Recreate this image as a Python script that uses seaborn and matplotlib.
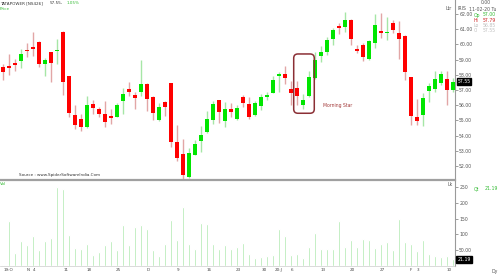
import numpy as np
import pandas as pd
import matplotlib
matplotlib.use("Agg")
import matplotlib.pyplot as plt
from matplotlib.patches import FancyBboxPatch
import seaborn as sns

# ---------------- data ----------------
opens = [58.49, 58.56, 58.78, 58.93, 59.65, 59.83, 60.18, 58.73, 59.48, 59.58,
         60.84, 57.92, 55.38, 55.07, 54.55, 56.06, 55.73, 55.42, 55.29, 55.22,
         56.28, 57.05, 56.65, 56.85, 57.41, 56.56, 55.03, 56.23, 57.44, 53.58,
         52.77, 51.26, 52.74, 53.64, 54.22, 55.03, 56.32, 54.98, 55.73, 55.07,
         56.54, 56.06, 55.38, 55.95, 56.57, 56.82, 57.94, 58.05, 57.09, 57.15,
         56.01, 56.61, 57.81, 59.24, 59.52, 60.36, 61.19, 61.17, 61.61, 59.68,
         59.96, 59.04, 60.07, 60.86, 60.75, 61.41, 60.73, 60.57, 57.86, 55.20,
         55.38, 56.93, 57.07, 57.44, 57.74, 57.00]
highs = [58.69, 59.35, 59.02, 59.72, 60.07, 60.82, 60.25, 59.09, 59.50, 60.38,
         60.88, 57.95, 56.01, 55.44, 56.61, 56.34, 55.88, 56.26, 55.77, 56.12,
         57.11, 57.53, 56.85, 58.97, 57.43, 56.58, 56.17, 56.25, 57.46, 54.68,
         53.80, 53.16, 53.69, 54.63, 55.60, 56.28, 56.34, 56.23, 56.12, 55.99,
         56.65, 56.56, 56.30, 56.74, 56.87, 57.94, 58.18, 58.58, 57.57, 57.59,
         56.74, 58.27, 59.52, 59.89, 60.47, 61.10, 61.39, 62.11, 61.67, 59.96,
         60.07, 60.28, 61.98, 62.05, 61.82, 61.61, 61.56, 60.60, 57.88, 56.43,
         56.82, 57.44, 58.25, 58.25, 58.25, 57.79]
lows = [57.66, 57.97, 58.27, 58.47, 59.19, 59.26, 58.49, 57.94, 57.55, 58.73,
        56.65, 55.24, 54.43, 54.28, 54.52, 55.40, 55.20, 54.59, 54.76, 55.20,
        55.44, 56.59, 55.73, 56.62, 55.64, 55.03, 54.98, 55.31, 53.25, 52.31,
        51.05, 51.19, 52.70, 52.94, 54.15, 54.74, 54.85, 54.59, 55.20, 55.03,
        55.86, 55.07, 55.30, 55.68, 56.34, 56.78, 56.89, 57.39, 55.99, 55.99,
        55.77, 56.56, 57.74, 58.84, 59.30, 59.96, 60.70, 60.84, 59.94, 59.41,
        58.91, 59.00, 59.74, 60.40, 60.31, 60.73, 59.04, 57.66, 54.70, 54.68,
        54.63, 56.23, 56.89, 57.30, 55.99, 56.85]
closes = [58.18, 58.47, 58.67, 59.39, 59.55, 59.72, 58.73, 58.95, 58.80, 59.63,
          57.55, 55.47, 54.72, 54.55, 55.99, 55.80, 55.44, 54.89, 55.18, 55.99,
          56.72, 56.85, 56.49, 57.41, 56.39, 55.51, 55.90, 55.86, 53.56, 52.55,
          51.41, 52.86, 53.43, 54.04, 55.07, 56.08, 55.57, 55.75, 55.53, 55.84,
          56.17, 55.20, 56.17, 56.52, 56.61, 57.66, 58.05, 57.79, 56.78, 56.62,
          56.34, 57.84, 58.99, 59.48, 60.29, 60.95, 61.06, 61.61, 60.33, 59.59,
          59.19, 60.25, 61.28, 60.75, 60.84, 60.95, 60.36, 58.16, 55.31, 54.96,
          56.49, 57.26, 57.74, 58.05, 57.00, 57.55]
volumes = [4, 142, 42, 79, 66, 94, 50, 79, 89, 250,
           243, 97, 57, 54, 69, 35, 45, 66, 79, 50,
           130, 66, 123, 131, 118, 52, 33, 69, 145, 81,
           188, 69, 54, 137, 132, 70, 53, 66, 55, 60,
           74, 37, 26, 28, 32, 35, 118, 95, 35, 37,
           26, 60, 103, 54, 55, 55, 142, 61, 81, 60,
           85, 82, 57, 71, 76, 50, 150, 77, 69, 47,
           81, 38, 33, 30, 33, 21.19]
date_pos = [0.9, 4.2, 5.2, 10.5, 14.3, 19.3, 24.2, 29.2, 34.3, 39.3,
            43.5, 46.0, 48.2, 53.3, 58.3, 63.3, 68.0, 69.2, 74.3]
date_labels = ["19:O", "N", "4", "11", "18", "25", "D", "9", "16", "23",
               "30", "20:J", "6", "13", "20", "27", "F", "3", "10"]
price_ticks = [52, 53, 54, 55, 56, 57, 58, 59, 60, 61, 62]
vol_ticks = [50, 100, 150, 200, 250]
vol_tick_labels = ["50.00", "100", "150", "200", "250"]
pattern_first, pattern_last = 49, 51

# ---------------- figure ----------------
sns.set_theme(style="white")
plt.rcParams["font.family"] = ["DejaVu Sans"]

FS = 3.3
FS_SMALL = 3.0
W, H = 500, 274
fig = plt.figure(figsize=(W / 100, H / 100), dpi=100)
fig.patch.set_facecolor("white")
axp = fig.add_axes([0, (H - 180) / H, 455 / W, 180 / H])
axv = fig.add_axes([0, (H - 266) / H, 455 / W, 85 / H])

n = len(opens)
idx = np.arange(n)
o = np.array(opens); c = np.array(closes)
hi = np.array(highs); lo = np.array(lows)
up = c >= o
body_col = np.where(up, "#00e600", "#ff0000")
wick_col = np.where(up, "#a6e6a6", "#e2a6a6")

axp.vlines(idx, lo, hi, colors=wick_col, linewidth=1.0, zorder=2)
bottoms = np.minimum(o, c)
heights = np.maximum(np.abs(c - o), 0.08)
axp.bar(idx, heights, bottom=bottoms, width=0.64, color=body_col,
        linewidth=0, zorder=3)

axp.set_xlim(-0.5, 455 / 6 - 0.5)
axp.set_ylim(51.08, 62.92)
axp.set_xticks([])
axp.yaxis.tick_right()
axp.set_yticks(price_ticks)
axp.set_yticklabels([f"{v:.2f}" for v in price_ticks])
axp.tick_params(axis="y", right=True, left=False, length=2, width=0.5,
                color="#777777", labelsize=FS, pad=1, labelcolor="#555555",
                direction="out")
for s in ["left", "top"]:
    axp.spines[s].set_visible(False)
axp.spines["right"].set_color("#9a9a9a")
axp.spines["right"].set_linewidth(0.8)
axp.spines["bottom"].set_color("#a0a0a0")
axp.spines["bottom"].set_linewidth(1.6)

# current price box
axp.text(464 / 455, closes[-1], f"{closes[-1]:.2f}", transform=axp.get_yaxis_transform(),
         ha="center", va="center", fontsize=FS, color="white",
         bbox=dict(boxstyle="square,pad=0.2", fc="black", ec="black"))

# Morning star box
x0 = pattern_first - 0.55
x1 = pattern_last + 0.88
ylo = min(lows[pattern_first:pattern_last + 1]) - 0.3
yhi = max(highs[pattern_first:pattern_last + 1]) + 1.1
box = FancyBboxPatch((x0, ylo), x1 - x0, yhi - ylo,
                     boxstyle="round,pad=0,rounding_size=0.7",
                     mutation_aspect=0.395, fill=False, ec="#8b2f35", lw=1.1, zorder=4)
axp.add_patch(box)
axp.text(pattern_last + 2.3, 55.95, "Morning Star", fontsize=FS, color="#a33a3a",
         ha="left", va="center")

# ---------------- volume ----------------
vdf = pd.DataFrame({"idx": idx, "vol": volumes})
sns.barplot(data=vdf, x="idx", y="vol", ax=axv, color="#a2e6a2", saturation=1,
            width=0.22, native_scale=True, errorbar=None)
axv.set_xlim(-0.5, 455 / 6 - 0.5)
axv.set_ylim(0, 269)
axv.set_xlabel(""); axv.set_ylabel("")
axv.yaxis.tick_right()
axv.set_yticks(vol_ticks)
axv.set_yticklabels(vol_tick_labels)
axv.tick_params(axis="y", right=True, left=False, length=2, width=0.5,
                color="#777777", labelsize=FS, pad=1, labelcolor="#555555",
                direction="out")
axv.set_xticks(date_pos)
axv.set_xticklabels(date_labels)
axv.tick_params(axis="x", length=0, labelsize=FS_SMALL, pad=1.2, labelcolor="#444444")
for s in ["left", "top"]:
    axv.spines[s].set_visible(False)
axv.spines["right"].set_color("#9a9a9a")
axv.spines["right"].set_linewidth(0.8)
axv.spines["bottom"].set_color("#cccccc")
axv.spines["bottom"].set_linewidth(0.5)
axv.set_facecolor("none")
axp.set_facecolor("none")

axv.text(464 / 455, volumes[-1], f"{volumes[-1]:.2f}", transform=axv.get_yaxis_transform(),
         ha="center", va="center", fontsize=FS, color="white",
         bbox=dict(boxstyle="square,pad=0.2", fc="black", ec="black"))


def ftext(x, y, s, **kw):
    kw.setdefault("fontsize", FS)
    kw.setdefault("va", "center")
    fig.text(x / W, 1 - y / H, s, **kw)


# header texts
ftext(0, 3.5, "TATAPOWER [NS426]", color="#333333", fontsize=FS_SMALL)
ftext(50, 3.5, "57.55,", color="#333333", fontsize=FS_SMALL)
ftext(67, 3.5, "1.05%", color="#33bb33", fontsize=FS_SMALL)
ftext(0, 9, "Price", color="#33bb33", fontsize=FS_SMALL)
ftext(19, 175, "Source : www.SpiderSoftwareIndia.Com", color="#333333", fontsize=FS_SMALL)

# right info panel
ftext(446, 8.5, "Ltr", color="#555555")
ftext(458, 8.5, "IRIS", color="#555555")
ftext(481, 3.0, "0.00", color="#555555")
ftext(469, 9.3, "11-02-20 Tu", color="#555555")
ftext(474, 15.0, "Op", color="#33bb33")
ftext(483, 15.0, "57.00", color="#33bb33")
ftext(474, 20.2, "Hi", color="#cc2222")
ftext(483, 20.2, "57.79", color="#cc2222")
ftext(474, 25.2, "Lo", color="#c0c0c0")
ftext(483, 25.2, "56.85", color="#c0c0c0")
ftext(474, 30.2, "Cl", color="#c0c0c0")
ftext(483, 30.2, "57.55", color="#c0c0c0")

# volume pane texts
ftext(0, 184, "Vol", color="#33bb33", fontsize=FS_SMALL)
ftext(448, 184, "Lk", color="#555555")
ftext(474, 189, "Qt", color="#33bb33")
ftext(485, 189, "21.19", color="#33bb33")
ftext(492, 271, "Dy", color="#555555")

fig.savefig("out.png", dpi=100, facecolor="white")
